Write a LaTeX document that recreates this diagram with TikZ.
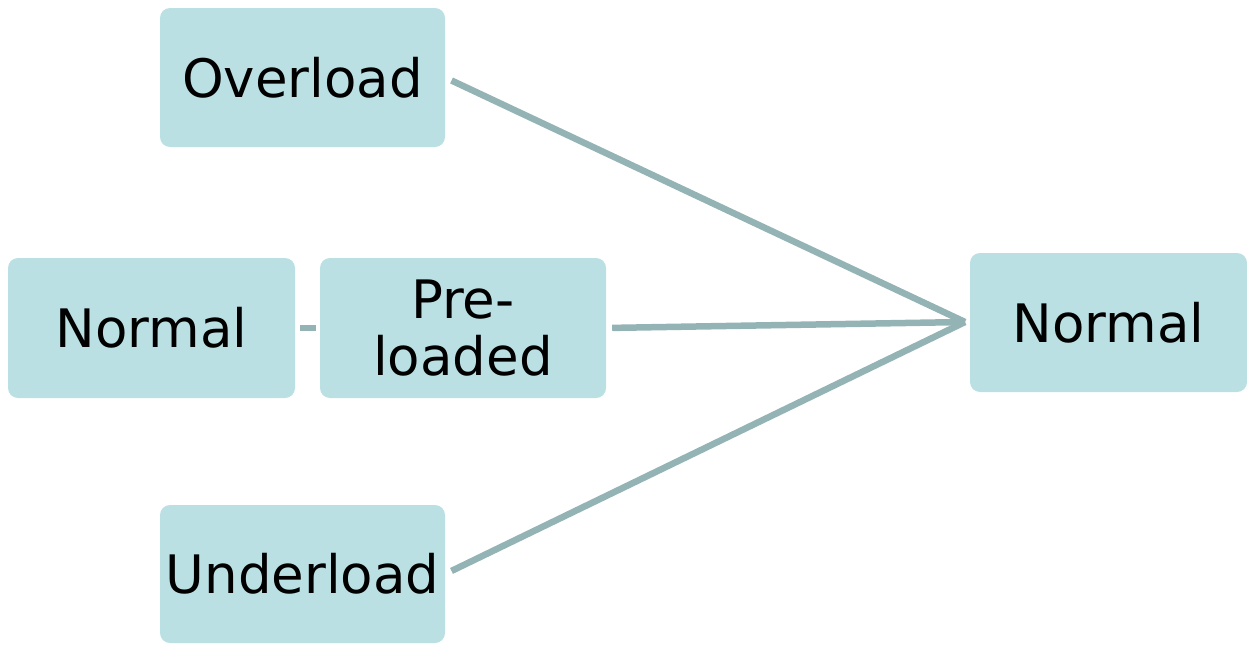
\documentclass[tikz,border=0pt]{standalone}
\usepackage{fontspec}
\setmainfont{DejaVu Sans}
\definecolor{boxfill}{HTML}{BAE0E3}
\definecolor{linecol}{HTML}{94B3B5}
\begin{document}
\begin{tikzpicture}[x=1pt,y=-1pt,
  box/.style={fill=boxfill, draw=none, rounded corners=10pt, inner sep=0pt,
    font=\fontsize{53}{57}\selectfont, align=center},
  conn/.style={draw=linecol, line width=6.5pt}]
\useasboundingbox (0,0) rectangle (1247,645);
\node[box, minimum width=285pt, minimum height=139pt] (over) at (302.5,77.5) {Overload};
\node[box, minimum width=287pt, minimum height=140pt] (normL) at (151.5,328) {Normal};
\node[box, minimum width=286pt, minimum height=140pt] (pre) at (463,328) {Pre-\\loaded};
\node[box, minimum width=285pt, minimum height=138pt] (under) at (302.5,574) {Underload};
\node[box, minimum width=277pt, minimum height=139pt] (normR) at (1108.5,322.5) {Normal};
\coordinate (hub) at (965,322);
\draw[conn, shorten <=7pt] (over.east) -- (hub);
\draw[conn, shorten <=6pt] (pre.east) -- (hub);
\draw[conn, shorten <=7pt] (under.east) -- (hub);
\draw[conn, shorten <=5pt, shorten >=4pt] (normL.east) -- (pre.west);
\end{tikzpicture}
\end{document}
